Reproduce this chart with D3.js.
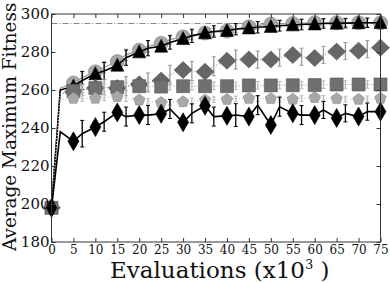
<!DOCTYPE html>
<html>
<head>
<meta charset="utf-8">
<script src="https://cdn.jsdelivr.net/npm/d3@7"></script>
<style>
  body { margin: 0; background: #fff; }
  svg { display: block; }
</style>
</head>
<body>
<div id="container"></div>
<script>
// evaluations (x10^3) where values were recorded
const evals = [0,2,5,7,10,12,15,17,20,22,25,27,30,32,35,37,40,42,45,47,50,52,55,57,60,62,65,67,70,72,75];
const xTicks = [0,5,10,15,20,25,30,35,40,45,50,55,60,65,70,75];
const yTicks = [180,200,220,240,260,280,300];
const optimum = 295;

const circleVals   = [198,261,263.7,266.5,269.6,272,275,278.5,281,283,284.6,286.5,288,289,290,290.5,291,292.2,293.3,294,294.7,294.9,295,295.2,295.4,295.4,295.4,295.4,295.4,295.4,295.4];
const triangleVals = [198,260,262,265,268.5,270,273,277,280,282,283,285,287,288.5,290,290.8,291.3,292,292.6,293,293.4,293.8,294.2,294.5,294.7,295,295.1,295.2,295.3,295.4,295.4];
const gDiamondVals = [198,258,259,260,261,261.5,261,262,263,264,265,268,270.5,270,269.6,272.5,275.4,276,276.1,276,276.1,277,278.4,277.5,276.8,278.5,280.2,280.5,280.7,281.5,282.3];
const squareVals   = [198,258,259.5,260.5,261,261.3,261.5,261.8,262,262,261.8,262,262,262,262,262.2,262,262.2,262.4,262.4,262.4,262.5,262.5,262.6,262.6,262.8,262.9,262.9,262.9,262.9,262.9];
const pentagonVals = [198,255,255.6,255.6,255.6,256,256.5,255.5,254.7,254,253.4,253.6,253.8,254.2,254.7,254.9,255,255.3,255.6,255.5,255.4,255.2,255.1,255.5,256,255.7,255.4,255.2,255,255.3,255.6];
const bDiamondVals = [198,238,233,237,240.5,243.3,248.2,246,246.8,246.8,247.5,250,243,247.7,251.7,246,246.4,246.8,246,252,241.6,251.2,247.7,246.8,246.8,249.5,245.3,247.7,246,248.6,248.6];

// error half-widths at 7,12,...,72
const triangleErr = [4.8,4.5,4,4,3.5,3.5,3,3,3,2.8,2.8,2.5,2.5,2.5];
const circleErr   = [3,3,3,3,2.5,2.5,2,2,2,2,2,2,2,2];
const gDiamondErr = [3,4,5,5,5,5,5,5,4.5,4.5,4.5,4.5,4.5,4.5];
const squareErr   = [2,2,2,2,2,2,2,2,2,2,2,2,2,2];
const pentagonErr = [1.5,1.5,1.5,1.5,1.5,1.5,1.5,1.5,1.5,1.5,1.5,1.5,1.5,1.5];
const bDiamondErr = [7,5,5,5,5,5,5,6,5,5,5,4.5,4.5,4.5];

const W = 390, H = 283;
const mLeft = 51.5, mRight = 380.5, mTop = 14, mBottom = 242;

const svg = d3.select("#container").append("svg")
  .attr("width", W).attr("height", H);

const x = d3.scaleLinear().domain([0,75]).range([mLeft,mRight]);
const y = d3.scaleLinear().domain([180,300]).range([mBottom,mTop]);

// optimum line
svg.append("line")
  .attr("x1", x(0)).attr("x2", x(75))
  .attr("y1", y(optimum)).attr("y2", y(optimum))
  .attr("stroke", "#888").attr("stroke-width", 1)
  .attr("stroke-dasharray", "6,2,1,2");

function tri(s){ return `M0,${-s*0.55}L${s*0.5},${s*0.45}L${-s*0.5},${s*0.45}Z`; }
function dia(w,h){ return `M0,${-h}L${w},0L0,${h}L${-w},0Z`; }
function sq(s){ return `M${-s},${-s}L${s},${-s}L${s},${s}L${-s},${s}Z`; }
function pent(r){
  let p = d3.range(5).map(function(i){
    let a = -Math.PI/2 + i*2*Math.PI/5;
    return [r*Math.cos(a), r*Math.sin(a)];
  });
  return "M" + p.join("L") + "Z";
}
function circ(r){ return `M${r},0A${r},${r} 0 1,1 ${-r},0A${r},${r} 0 1,1 ${r},0Z`; }

const series = [
  {vals: circleVals,   err: circleErr,   line: "#999", dash: null,  lw: 1.2, ec: "#aaa", fill: "#a6a6a6", edge: "#888", mark: circ(7)},
  {vals: triangleVals, err: triangleErr, line: "#000", dash: null,  lw: 1.6, ec: "#000", fill: "#000",    edge: "#000", mark: tri(13)},
  {vals: gDiamondVals, err: gDiamondErr, line: "#888", dash: "1,2", lw: 1,   ec: "#999", fill: "#666",    edge: "#555", mark: dia(9,8.5)},
  {vals: squareVals,   err: squareErr,   line: "#999", dash: "1,2", lw: 1,   ec: "#bbb", fill: "#707070", edge: "#555", mark: sq(6.5)},
  {vals: pentagonVals, err: pentagonErr, line: "#bbb", dash: "1,2", lw: 1,   ec: "#bbb", fill: "#a8a8a8", edge: "#888", mark: pent(6)},
  {vals: bDiamondVals, err: bDiamondErr, line: "#000", dash: null,  lw: 1.6, ec: "#000", fill: "#000",    edge: "#000", mark: dia(5.5,9.5)}
];

const line = d3.line().x(function(d){ return x(d[0]); }).y(function(d){ return y(d[1]); });
const errX = evals.filter(function(e){ return e % 5 == 2 && e > 2; });

series.forEach(function(s){
  let pts = evals.map(function(e,i){ return [e, s.vals[i]]; });
  let g = svg.append("g");
  g.append("path")
    .attr("d", line(pts))
    .attr("fill", "none")
    .attr("stroke", s.line)
    .attr("stroke-width", s.lw)
    .attr("stroke-dasharray", s.dash);

  let eb = g.selectAll(".eb").data(errX).enter().append("g").attr("class","eb");
  eb.append("line")
    .attr("x1", function(d){ return x(d); }).attr("x2", function(d){ return x(d); })
    .attr("y1", function(d,i){ return y(s.vals[evals.indexOf(d)] - s.err[i]); })
    .attr("y2", function(d,i){ return y(s.vals[evals.indexOf(d)] + s.err[i]); })
    .attr("stroke", s.ec).attr("stroke-width", 1.3);
  [-1,1].forEach(function(sign){
    eb.append("line")
      .attr("x1", function(d){ return x(d)-2; }).attr("x2", function(d){ return x(d)+2; })
      .attr("y1", function(d,i){ return y(s.vals[evals.indexOf(d)] + sign*s.err[i]); })
      .attr("y2", function(d,i){ return y(s.vals[evals.indexOf(d)] + sign*s.err[i]); })
      .attr("stroke", s.ec).attr("stroke-width", 1);
  });

  g.selectAll(".mk").data(xTicks).enter().append("path")
    .attr("class","mk")
    .attr("d", s.mark)
    .attr("transform", function(d){ return `translate(${x(d)},${y(s.vals[evals.indexOf(d)])})`; })
    .attr("fill", s.fill)
    .attr("stroke", s.edge)
    .attr("stroke-width", 0.6);
});

// frame
svg.append("rect")
  .attr("x", mLeft).attr("y", mTop)
  .attr("width", mRight-mLeft).attr("height", mBottom-mTop)
  .attr("fill", "none").attr("stroke", "#333").attr("stroke-width", 1);

// inward ticks on all sides
let xAxisG = svg.append("g").attr("transform", `translate(0,${mBottom})`)
  .call(d3.axisBottom(x).tickValues(xTicks).tickSizeInner(-4).tickSizeOuter(0).tickPadding(3));
xAxisG.select(".domain").remove();
let topAxisG = svg.append("g").attr("transform", `translate(0,${mTop})`)
  .call(d3.axisTop(x).tickValues(xTicks).tickSizeInner(-4).tickSizeOuter(0).tickFormat(""));
topAxisG.select(".domain").remove();
let yAxisG = svg.append("g").attr("transform", `translate(${mLeft},0)`)
  .call(d3.axisLeft(y).tickValues(yTicks).tickSizeInner(-4).tickSizeOuter(0).tickPadding(2));
yAxisG.select(".domain").remove();
let rightAxisG = svg.append("g").attr("transform", `translate(${mRight},0)`)
  .call(d3.axisRight(y).tickValues(yTicks).tickSizeInner(-4).tickSizeOuter(0).tickFormat(""));
rightAxisG.select(".domain").remove();

svg.selectAll(".tick line").attr("stroke", "#333");
svg.selectAll(".tick text")
  .attr("font-family", "DejaVu Serif")
  .attr("fill", "#111");
xAxisG.selectAll(".tick text").attr("font-size", 12);
yAxisG.selectAll(".tick text").attr("font-size", 15);

// axis titles
svg.append("text")
  .attr("transform", "translate(15.5,251) rotate(-90)")
  .attr("font-family", "DejaVu Serif")
  .attr("font-size", 18.4)
  .attr("fill", "#111")
  .text("Average Maximum Fitness");

let xl = svg.append("text")
  .attr("x", 110).attr("y", 278)
  .attr("font-family", "DejaVu Serif")
  .attr("font-size", 23)
  .attr("fill", "#111");
xl.append("tspan").text("Evaluations (x10");
xl.append("tspan").attr("font-size", 13).attr("dy", -9).text("3");
xl.append("tspan").attr("dy", 9).text(" )");
</script>
</body>
</html>
